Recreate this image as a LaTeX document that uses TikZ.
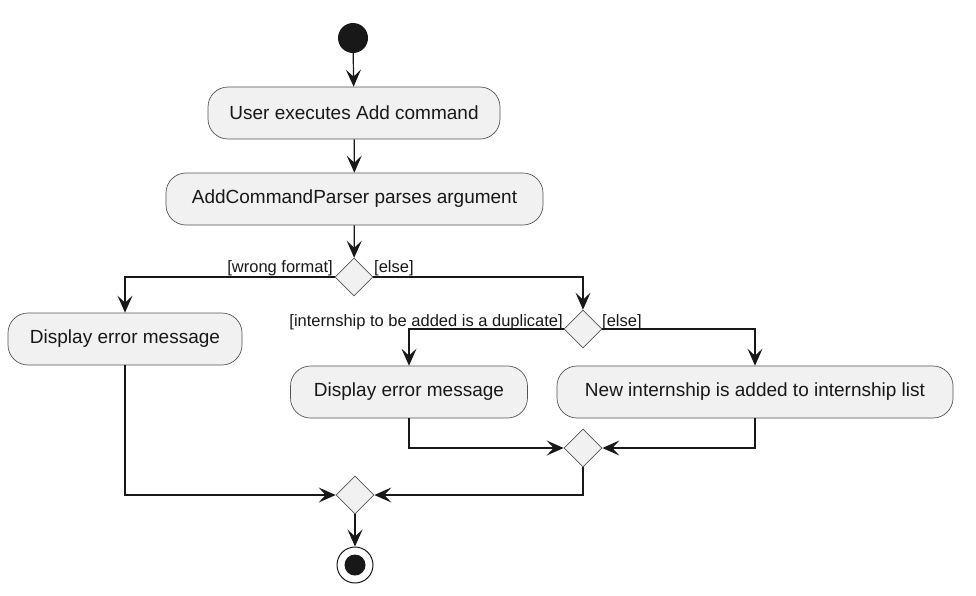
\documentclass[tikz,border=0pt]{standalone}
\usepackage{fontspec}
\setmainfont{Liberation Sans}
\usetikzlibrary{shapes.geometric,arrows.meta}
\definecolor{boxfill}{HTML}{F1F1F1}
\definecolor{boxline}{HTML}{555555}
\definecolor{lineclr}{HTML}{181818}
\begin{document}
\begin{tikzpicture}[x=1pt,y=-1pt,
  act/.style={draw=boxline, line width=0.7pt, fill=boxfill, rounded corners=20pt, minimum height=52pt, inner sep=0pt, font=\fontsize{19}{22}\selectfont, text=lineclr},
  dia/.style={diamond, draw=boxline, line width=0.7pt, fill=boxfill, minimum width=38pt, minimum height=38pt, inner sep=0pt},
  flow/.style={draw=lineclr, line width=1.2pt, -{Stealth[length=17pt,width=15pt,inset=7pt]}},
  guard/.style={font=\fontsize{16.5}{19}\selectfont, text=lineclr, inner sep=0pt}]
\useasboundingbox (0,0) rectangle (976,595);
\node[circle, fill=lineclr, minimum size=30pt, inner sep=0pt] (start) at (353,38) {};
\node[act, minimum width=292pt] (a1) at (354,113) {User executes Add command};
\node[act, minimum width=377pt] (a2) at (354.5,199) {AddCommandParser parses argument};
\node[dia] (d1) at (354,277) {};
\node[act, minimum width=234pt] (a3) at (125,339) {Display error message};
\node[dia] (d2) at (583,329) {};
\node[act, minimum width=237pt] (a4) at (409,392) {Display error message};
\node[act, minimum width=396pt] (a5) at (755,392) {New internship is added to internship list};
\node[dia] (d3) at (583,448) {};
\node[dia] (d4) at (355,495) {};
\node[circle, draw=lineclr, line width=1pt, fill=white, minimum size=36pt, inner sep=0pt] (end) at (355,565) {};
\node[circle, fill=lineclr, minimum size=21pt, inner sep=0pt] (endin) at (end.center) {};
\node[guard, anchor=base east] (g1) at (333,272) {[wrong format]};
\node[guard, anchor=base west] (g2) at (374,272) {[else]};
\node[guard, anchor=base east] (g3) at (563,326) {[internship to be added is a duplicate]};
\node[guard, anchor=base west] (g4) at (602,326) {[else]};
\draw[flow] (start) -- (a1);
\draw[flow] (a1) -- (a2);
\draw[flow] (a2) -- (d1);
\draw[flow] (d1.west) -| (a3.north);
\draw[flow] (d1.east) -| (d2.north);
\draw[flow] (d2.west) -| (a4.north);
\draw[flow] (d2.east) -| (a5.north);
\draw[flow] (a4.south) |- (d3.west);
\draw[flow] (a5.south) |- (d3.east);
\draw[flow] (a3.south) |- (d4.west);
\draw[flow] (d3.south) |- (d4.east);
\draw[flow] (d4) -- (end);
\end{tikzpicture}
\end{document}
